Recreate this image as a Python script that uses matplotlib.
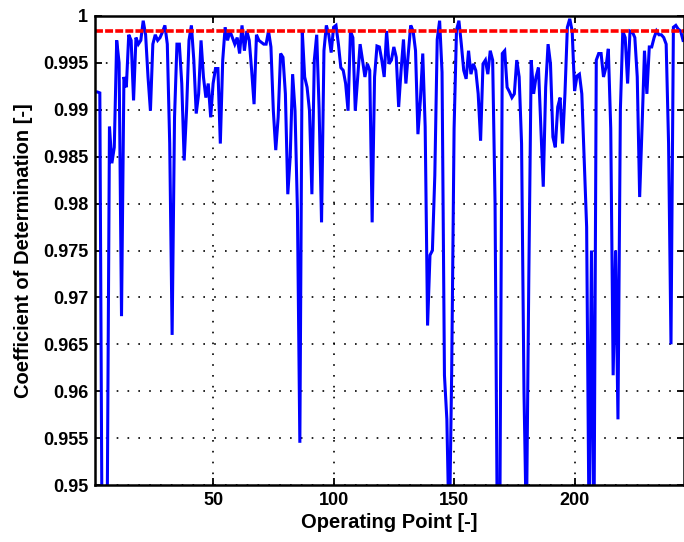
import numpy as np
import matplotlib
matplotlib.use("Agg")
import matplotlib.pyplot as plt
from matplotlib.ticker import FormatStrFormatter

# Coefficient of determination per operating point
r2 = [
    0.9919, 0.9919, 0.9918, 0.9400, 0.9470, 0.9440, 0.9882, 0.9843, 0.9860, 0.9974,
    0.9950, 0.9680, 0.9935, 0.9924, 0.9980, 0.9974, 0.9910, 0.9977, 0.9970, 0.9974,
    0.9995, 0.9980, 0.9935, 0.9899, 0.9970, 0.9980, 0.9974, 0.9977, 0.9983, 0.9990,
    0.9970, 0.9864, 0.9660, 0.9892, 0.9970, 0.9970, 0.9928, 0.9846, 0.9900, 0.9974,
    0.9990, 0.9953, 0.9896, 0.9917, 0.9974, 0.9935, 0.9913, 0.9928, 0.9892, 0.9928,
    0.9944, 0.9944, 0.9864, 0.9953, 0.9988, 0.9974, 0.9984, 0.9977, 0.9970, 0.9977,
    0.9960, 0.9990, 0.9963, 0.9984, 0.9974, 0.9942, 0.9906, 0.9980, 0.9974, 0.9972,
    0.9970, 0.9970, 0.9984, 0.9967, 0.9899, 0.9857, 0.9892, 0.9960, 0.9956, 0.9917,
    0.9810, 0.9850, 0.9938, 0.9899, 0.9793, 0.9545, 0.9984, 0.9935, 0.9924, 0.9899,
    0.9810, 0.9953, 0.9980, 0.9900, 0.9780, 0.9963, 0.9990, 0.9980, 0.9961, 0.9988,
    0.9990, 0.9970, 0.9945, 0.9942, 0.9928, 0.9899, 0.9984, 0.9977, 0.9899, 0.9935,
    0.9970, 0.9953, 0.9935, 0.9949, 0.9942, 0.9780, 0.9935, 0.9968, 0.9967, 0.9953,
    0.9935, 0.9984, 0.9949, 0.9953, 0.9967, 0.9956, 0.9903, 0.9942, 0.9975, 0.9928,
    0.9960, 0.9990, 0.9984, 0.9963, 0.9874, 0.9910, 0.9960, 0.9882, 0.9670, 0.9745,
    0.9750, 0.9830, 0.9975, 0.9995, 0.9940, 0.9617, 0.9570, 0.9440, 0.9620, 0.9880,
    0.9985, 0.9995, 0.9970, 0.9942, 0.9933, 0.9963, 0.9938, 0.9949, 0.9942, 0.9917,
    0.9867, 0.9949, 0.9953, 0.9938, 0.9963, 0.9953, 0.9800, 0.9420, 0.9470, 0.9960,
    0.9963, 0.9924, 0.9919, 0.9913, 0.9917, 0.9953, 0.9935, 0.9864, 0.9600, 0.9450,
    0.9720, 0.9953, 0.9917, 0.9935, 0.9945, 0.9882, 0.9818, 0.9924, 0.9970, 0.9949,
    0.9871, 0.9860, 0.9903, 0.9913, 0.9864, 0.9917, 0.9988, 0.9997, 0.9984, 0.9920,
    0.9936, 0.9938, 0.9917, 0.9846, 0.9775, 0.9450, 0.9750, 0.9420, 0.9953, 0.9960,
    0.9960, 0.9935, 0.9945, 0.9965, 0.9880, 0.9617, 0.9750, 0.9570, 0.9900, 0.9984,
    0.9977, 0.9928, 0.9984, 0.9983, 0.9977, 0.9935, 0.9807, 0.9882, 0.9963, 0.9917,
    0.9967, 0.9967, 0.9977, 0.9984, 0.9980, 0.9980, 0.9977, 0.9970, 0.9864, 0.9650,
    0.9988, 0.9990, 0.9986, 0.9984, 0.9974,
]
points = np.arange(1, len(r2) + 1)
threshold = 0.9984

plt.rcParams['font.family'] = ['Liberation Sans', 'DejaVu Sans']
plt.rcParams['font.weight'] = 'bold'

fig = plt.figure(figsize=(6.84, 5.42), dpi=100)
ax = fig.add_axes([95 / 684, 57 / 542, 1 - 95 / 684, (485 - 16) / 542])

ax.plot(points, r2, color='#0000ff', lw=2.2, solid_joinstyle='miter')
ax.axhline(threshold, color='#ff0000', lw=2.6, dashes=(2.2, 0.6))

ax.set_xlim(1, 245.4)
ax.set_ylim(0.95, 1.0)
ax.set_xticks([50, 100, 150, 200])
ax.set_yticks(np.arange(0.95, 1.0001, 0.005))
ax.yaxis.set_major_formatter(FormatStrFormatter('%g'))

ax.grid(True, color='black', linestyle=(0, (1, 5.5)), linewidth=1.2)
ax.tick_params(direction='in', top=True, right=True, length=5, width=1.3,
               labelsize=13, pad=5)
for lab in ax.get_xticklabels() + ax.get_yticklabels():
    lab.set_fontweight('bold')
for s in ax.spines.values():
    s.set_linewidth(1.8)

ax.set_xlabel('Operating Point [-]', fontsize=14.5, fontweight='bold', labelpad=3)
ax.set_ylabel('Coefficient of Determination [-]', fontsize=14.5, fontweight='bold', labelpad=7)

fig.savefig('out.png', dpi=100)
